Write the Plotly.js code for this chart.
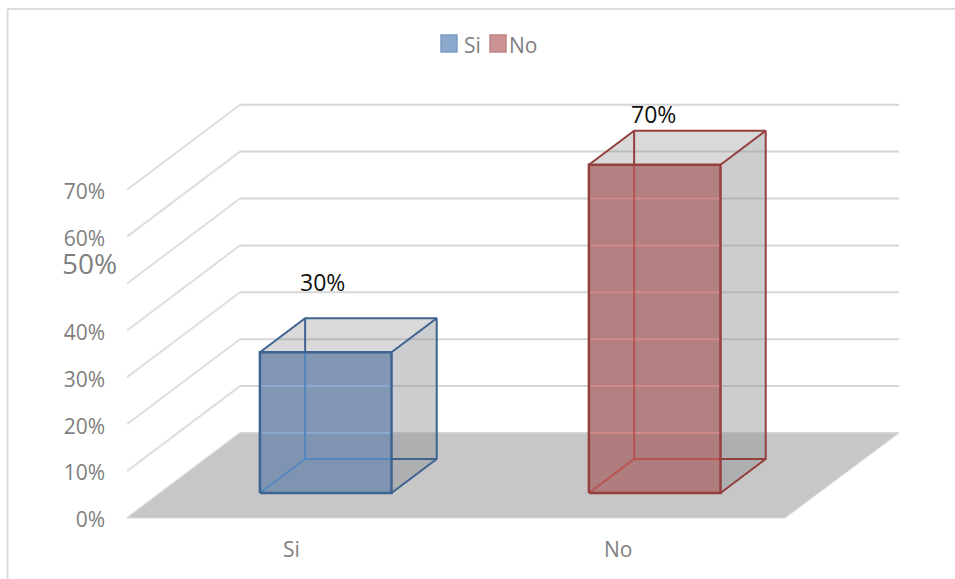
<!DOCTYPE html>
<html>
<head>
<meta charset="utf-8">
<script src="https://cdn.plot.ly/plotly-3.0.1.min.js"></script>
<style>html,body{margin:0;padding:0;background:#fff}#chart{width:955px;height:579px}</style>
</head>
<body>
<div id="chart"></div>
<script>
// Survey answers shown as a pseudo-3D column chart
const categories = ['Si', 'No'];
const shares = [0.30, 0.70];
const tickValues = [0, 0.1, 0.2, 0.3, 0.4, 0.6, 0.7];
const tickLabels = ['0%', '10%', '20%', '30%', '40%', '60%', '70%'];
const gridValues = [0, 0.1, 0.2, 0.3, 0.4, 0.5, 0.6, 0.7];

const faceColors = ['rgba(122,145,174,0.94)', 'rgba(173,120,120,0.94)'];
const edgeColors = ['#3f6391', '#953f3f'];
const innerColors = ['#5686bf', '#bb5353'];
const sheenColors = ['#8aa7cf', '#d08a8a'];
const swatchFill = ['#8ba9cc', '#ca9292'];
const swatchLine = ['#7d9cc2', '#c28484'];
const labelShift = [[30, 95], [32, 76]];

// Oblique projection: depth d (0 = front, 1 = back wall) shifts a point right and up
const DEPTH_X = 0.3435, DEPTH_Y = 0.1812;
const BAR_OFFSET = 0.503, BAR_HALF = 0.2, BAR_NEAR = 0.294, BAR_FAR = 0.694;
// Tick labels sit slightly below their wall line
const TICK_NUDGE = 0.0043;
const project = (u, v, d) => [u + d * DEPTH_X, v + d * DEPTH_Y];

const traces = [];
function poly(points, opts) {
  const closed = opts.fill ? points.concat([points[0]]) : points;
  traces.push({
    type: 'scatter', mode: 'lines', hoverinfo: 'skip', showlegend: false,
    name: opts.name || '',
    x: closed.map(p => p[0]), y: closed.map(p => p[1]),
    fill: opts.fill ? 'toself' : 'none', fillcolor: opts.fill,
    line: {color: opts.color || 'rgba(0,0,0,0)', width: opts.width === undefined ? 0 : opts.width, shape: 'linear'}
  });
}

// Left wall and back wall grid lines
gridValues.forEach(v => {
  poly([project(0, v, 0), project(0, v, 1)], {color: '#dedede', width: 2});
  poly([project(0, v, 1), project(2.003, v, 1)], {color: '#d6d6d6', width: 2});
});
// Floor
poly([project(0, 0, 0), project(2, 0, 0), project(2.003, 0, 1), project(0, 0, 1)], {fill: '#c7c7c7', color: '#d9d9d9', width: 1});

// Columns
categories.forEach((cat, i) => {
  const u0 = i + BAR_OFFSET - BAR_HALF, u1 = i + BAR_OFFSET + BAR_HALF, h = shares[i];
  const fb0 = project(u0, 0, BAR_NEAR), fb1 = project(u1, 0, BAR_NEAR);
  const ft0 = project(u0, h, BAR_NEAR), ft1 = project(u1, h, BAR_NEAR);
  const bb0 = project(u0, 0, BAR_FAR), bb1 = project(u1, 0, BAR_FAR);
  const bt0 = project(u0, h, BAR_FAR), bt1 = project(u1, h, BAR_FAR);

  // Translucent top and side panels
  poly([ft0, ft1, bt1, bt0], {fill: 'rgba(120,120,120,0.28)'});
  poly([fb1, bb1, bt1, ft1], {fill: 'rgba(144,145,150,0.46)'});

  // Edges behind the front panel
  poly([bb0, bt0], {color: edgeColors[i], width: 2});
  poly([bb0, bb1], {color: edgeColors[i], width: 2});
  poly([fb1, bb1, bt1, ft1], {color: edgeColors[i], width: 2});
  poly([ft0, bt0, bt1], {color: edgeColors[i], width: 2});

  // Front panel
  poly([fb0, fb1, ft1, ft0], {fill: faceColors[i], name: cat});

  // Wall grid lines seen through the front panel
  gridValues.forEach(v => {
    const y = v + DEPTH_Y;
    if (y > fb0[1] && y < ft0[1]) {
      poly([[fb0[0], y], [fb1[0], y]], {color: sheenColors[i], width: 2});
    }
  });

  // Hidden edges seen through the front panel
  poly([fb0, bb0], {color: innerColors[i], width: 2});
  poly([bb0, [bb0[0], ft0[1]]], {color: innerColors[i], width: 2});
  poly([bb0, [fb1[0], bb0[1]]], {color: innerColors[i], width: 2});

  // Front outline on top
  poly([fb0, fb1, ft1, ft0, fb0], {color: edgeColors[i], width: 2.5});
});

// Plot area edges; the floor line sits two pixels above the bottom edge
const L = 127, R = 900, T = 100, B = 520;
const px = x => (x - L) / (R - L);
const py = y => (B - y) / (B - T);
const font = '"Open Sans", "Noto Sans", sans-serif';

const shapes = [
  // Chart frame: top and left edges only
  {type: 'line', xref: 'paper', yref: 'paper', x0: px(7.5), x1: px(955), y0: py(9), y1: py(9), line: {color: '#dcdcdc', width: 2}},
  {type: 'line', xref: 'paper', yref: 'paper', x0: px(7.5), x1: px(7.5), y0: py(9), y1: py(579), line: {color: '#dcdcdc', width: 2}}
];
const swatchLeft = [441, 490];
const legendTextLeft = [464, 509];
const annotations = [
  {xref: 'paper', yref: 'y', x: px(119), y: 0.5, yshift: 20, xanchor: 'right', yanchor: 'middle', showarrow: false,
   text: '50%', font: {family: font, size: 28, color: '#7f7f7f'}}
];
categories.forEach((cat, i) => {
  shapes.push({type: 'rect', xref: 'paper', yref: 'paper', x0: px(swatchLeft[i]), x1: px(swatchLeft[i] + 16), y0: py(35), y1: py(52),
    fillcolor: swatchFill[i], line: {color: swatchLine[i], width: 1.5}});
  annotations.push({xref: 'paper', yref: 'paper', x: px(legendTextLeft[i]), y: py(45), xanchor: 'left', yanchor: 'middle',
    showarrow: false, text: cat, font: {family: font, size: 21, color: '#7f7f7f'}, xshift: -2});
  annotations.push({x: i + BAR_OFFSET, y: shares[i], xshift: labelShift[i][0], yshift: labelShift[i][1], xanchor: 'center', yanchor: 'middle',
    showarrow: false, text: Math.round(shares[i] * 100) + '%', font: {family: font, size: 23, color: '#111'}});
});

const layout = {
  width: 955, height: 579, showlegend: false,
  paper_bgcolor: '#fff', plot_bgcolor: '#fff',
  margin: {l: L, r: 955 - R, t: T, b: 579 - B},
  xaxis: {range: [0, (R - L) / 329], showgrid: false, zeroline: false, showline: false, ticks: '',
    tickmode: 'array', tickvals: [0.5, 1.493], ticktext: categories, ticklabelstandoff: 15,
    tickfont: {family: font, size: 21, color: '#7f7f7f'}, fixedrange: true},
  yaxis: {range: [-TICK_NUDGE, (B - T) / 469 - TICK_NUDGE], showgrid: false, zeroline: false, showline: false, ticks: '',
    tickmode: 'array', tickvals: tickValues.map(v => v - TICK_NUDGE), ticktext: tickLabels, ticklabelstandoff: 21,
    tickfont: {family: font, size: 21, color: '#7f7f7f'}, fixedrange: true},
  shapes, annotations
};

Plotly.newPlot('chart', traces, layout, {displayModeBar: false, staticPlot: true});
</script>
</body>
</html>
